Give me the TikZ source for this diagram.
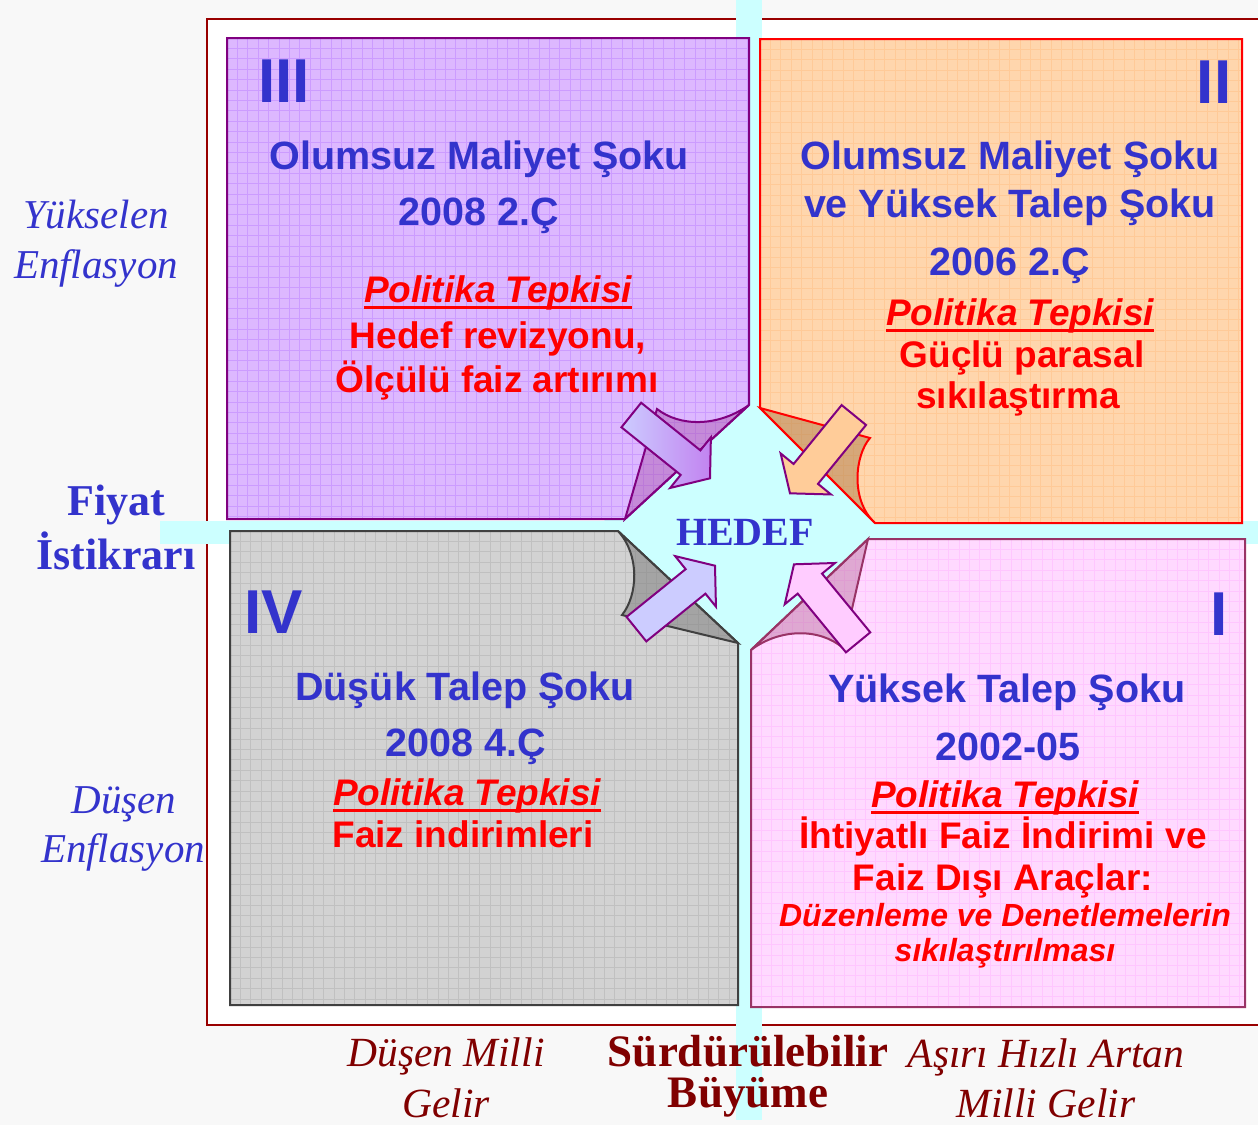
\documentclass[tikz,border=0pt]{standalone}
\usepackage{fontspec}
\setmainfont{Liberation Serif}
\setsansfont{Liberation Sans}
\usetikzlibrary{calc}
\definecolor{bgc}{HTML}{F8F8F8}
\definecolor{framec}{HTML}{990000}
\definecolor{cyanbg}{HTML}{CCFFFF}
\definecolor{pfill}{HTML}{DDB8FF}
\definecolor{pgrid}{HTML}{CC9CFF}
\definecolor{pedge}{HTML}{800080}
\definecolor{ofill}{HTML}{FFD6AD}
\definecolor{ogrid}{HTML}{FFCA98}
\definecolor{oedge}{HTML}{FF0000}
\definecolor{gfill}{HTML}{D2D2D2}
\definecolor{ggrid}{HTML}{C0C0C0}
\definecolor{gedge}{HTML}{404040}
\definecolor{kfill}{HTML}{FFD9FF}
\definecolor{kgrid}{HTML}{FFC6FF}
\definecolor{kedge}{HTML}{993366}
\definecolor{tblue}{HTML}{3333CC}
\definecolor{tred}{HTML}{FF0000}
\definecolor{tdark}{HTML}{800000}
\definecolor{arrlav}{HTML}{CCCCFF}
\definecolor{arrpur}{HTML}{C283F0}
\definecolor{arrorg}{HTML}{FFCC99}
\definecolor{arrpink}{HTML}{FFCCFF}
\definecolor{flapo}{HTML}{B5824F}
\definecolor{flapk}{HTML}{B06090}
\newcommand\gridin[5]{%
  \foreach \i in {0,...,52}{%
    \draw[#5, line width=0.8pt] ({#1+10.4*\i},#2) -- ++(0,#4);
    \draw[#5, line width=0.8pt] (#1,{#2+10.4*\i}) -- ++(#3,0);
  }}
\newcommand\blockarrow[3]{%
  \begin{scope}[shift={#1}, rotate=#2]
    \draw[#3] (0,0) -- (-25,32.5) -- (-25,15.75) -- (-101,15.75) -- (-101,-15.75) -- (-25,-15.75) -- (-25,-32.5) -- cycle;
  \end{scope}}
\newcommand\polit[2]{%
  \node[ptk] (#1) at (#2) {Politika Tepkisi};
  \draw[tred, line width=2.8pt] ([yshift=-5.5pt]#1.base west) -- ([yshift=-5.5pt]#1.base east);}
\tikzset{
  x=1pt, y=-1pt,
  boxline/.style={line width=2pt, line join=miter},
  hd/.style={font=\sffamily\bfseries\fontsize{39.5}{40}\selectfont, text=tblue, inner sep=0pt, anchor=base},
  ptk/.style={font=\sffamily\bfseries\itshape\fontsize{37}{38}\selectfont, text=tred, inner sep=0pt, anchor=base},
  rd/.style={font=\sffamily\bfseries\fontsize{37}{38}\selectfont, text=tred, inner sep=0pt, anchor=base},
  ri/.style={font=\sffamily\bfseries\itshape\fontsize{32}{33}\selectfont, text=tred, inner sep=0pt, anchor=base},
  rn/.style={font=\sffamily\bfseries\fontsize{62}{62}\selectfont, text=tblue, inner sep=0pt, anchor=base},
  lbi/.style={font=\itshape\fontsize{41}{42}\selectfont, text=tblue, inner sep=0pt, anchor=base},
  lbb/.style={font=\bfseries\fontsize{44}{45}\selectfont, text=tblue, inner sep=0pt, anchor=base},
  bti/.style={font=\itshape\fontsize{41.5}{42}\selectfont, text=tdark, inner sep=0pt, anchor=base},
  btb/.style={font=\bfseries\fontsize{45}{46}\selectfont, text=tdark, inner sep=0pt, anchor=base},
  hf/.style={font=\bfseries\fontsize{40}{41}\selectfont, text=tblue, inner sep=0pt, anchor=base},
  arr/.style={draw=pedge, line width=2pt, line join=miter},
}
\begin{document}
\begin{tikzpicture}
\useasboundingbox (0,0) rectangle (1258,1125);
\clip (0,0) rectangle (1258,1125);
% background
\fill[bgc] (0,0) rectangle (1258,1125);
\draw[framec, line width=2pt, fill=white] (207,19) rectangle (1280,1025);
% cyan cross and center
\fill[cyanbg] (736,0) rectangle (762,1120);
\fill[cyanbg] (160,521) rectangle (1258,544);
\fill[cyanbg] (745,380) -- (895,530) -- (745,680) -- (595,530) -- cycle;
% Quadrant III (purple)
\fill[pfill] (227,38) -- (749,38) -- (749,405) -- (625,519) -- (227,519) -- cycle;
\begin{scope}
  \clip (227,38) -- (749,38) -- (749,405) -- (625,519) -- (227,519) -- cycle;
  \gridin{227}{38}{530}{490}{pgrid}
\end{scope}
\draw[boxline, pedge] (227,38) -- (749,38) -- (749,405) -- (625,519) -- (227,519) -- cycle;
% Quadrant II (orange)
\fill[ofill] (760,39) -- (1242,39) -- (1242,523) -- (875,523) -- (760,408) -- cycle;
\begin{scope}
  \clip (760,39) -- (1242,39) -- (1242,523) -- (875,523) -- (760,408) -- cycle;
  \gridin{760}{39}{490}{490}{ogrid}
\end{scope}
\draw[boxline, oedge] (760,39) -- (1242,39) -- (1242,523) -- (875,523) -- (760,408) -- cycle;
% Quadrant IV (gray)
\fill[gfill] (230,531) -- (618,531) -- (738,643) -- (738,1005) -- (230,1005) -- cycle;
\begin{scope}
  \clip (230,531) -- (618,531) -- (738,643) -- (738,1005) -- (230,1005) -- cycle;
  \gridin{230}{531}{515}{480}{ggrid}
\end{scope}
\draw[boxline, gedge] (230,531) -- (618,531) -- (738,643) -- (738,1005) -- (230,1005) -- cycle;
% Quadrant I (pink)
\fill[kfill] (868,539) -- (1245,539) -- (1245,1007) -- (751,1007) -- (751,650) -- cycle;
\begin{scope}
  \clip (868,539) -- (1245,539) -- (1245,1007) -- (751,1007) -- (751,650) -- cycle;
  \gridin{751}{539}{500}{475}{kgrid}
\end{scope}
\draw[boxline, kedge] (868,539) -- (1245,539) -- (1245,1007) -- (751,1007) -- (751,650) -- cycle;
% curled corners
\filldraw[pedge, line width=2pt, fill=pedge!70!white, fill opacity=0.42] (749,405) .. controls (718,427) and (680,427) .. (657,409) -- (625,519) -- cycle;
\filldraw[oedge, line width=2pt, fill=flapo, fill opacity=0.55] (760,408) -- (870,438) .. controls (855,455) and (850,500) .. (875,523) -- cycle;
\filldraw[gedge, line width=2pt, fill=gray, fill opacity=0.55] (618,531) .. controls (640,555) and (638,595) .. (622,615) -- (738,643) -- cycle;
\filldraw[kedge, line width=2pt, fill=flapk, fill opacity=0.4] (868,539) -- (843,648) .. controls (820,628) and (780,628) .. (751,650) -- cycle;
% arrows
\blockarrow{(710,478.3)}{-38.8}{arr, left color=arrlav, right color=arrpur}
\blockarrow{(790,493.3)}{-129.2}{arr, fill=arrorg}
\blockarrow{(715,565.7)}{38.9}{arr, fill=arrlav}
\blockarrow{(794,564.3)}{129.4}{arr, fill=arrpink}
% HEDEF
\node[hf] (hedef) at (745,545) {HEDEF};
% Roman numerals
\node[rn] (r3) at (284,102) {III};
\node[rn] (r2) at (1214,103) {II};
\node[rn] (r4) at (274,633) {IV};
\node[rn] (r1) at (1219,635) {I};
% Quadrant III text
\node[hd] (t3a) at (479,169) {Olumsuz Maliyet Şoku};
\node[hd] (t3b) at (479,225) {2008 2.Ç};
\polit{p3}{498,302}
\node[rd] (t3c) at (498,348) {Hedef revizyonu,};
\node[rd] (t3d) at (497,392) {Ölçülü faiz artırımı};
% Quadrant II text
\node[hd] (t2a) at (1010,169) {Olumsuz Maliyet Şoku};
\node[hd] (t2b) at (1010,217) {ve Yüksek Talep Şoku};
\node[hd] (t2c) at (1010,275) {2006 2.Ç};
\polit{p2}{1020,325}
\node[rd] (t2d) at (1022,367) {Güçlü parasal};
\node[rd] (t2e) at (1018,408) {sıkılaştırma};
% Quadrant IV text
\node[hd] (t4a) at (465,700) {Düşük Talep Şoku};
\node[hd] (t4b) at (466,756) {2008 4.Ç};
\polit{p4}{467,805}
\node[rd] (t4c) at (463,847) {Faiz indirimleri};
% Quadrant I text
\node[hd] (t1a) at (1007,702) {Yüksek Talep Şoku};
\node[hd] (t1b) at (1008,760) {2002-05};
\polit{p1}{1005,807}
\node[rd] (t1c) at (1003,848) {İhtiyatlı Faiz İndirimi ve};
\node[rd] (t1d) at (1003,890) {Faiz Dışı Araçlar:};
\node[ri] (t1e) at (1005,926) {Düzenleme ve Denetlemelerin};
\node[ri] (t1f) at (1005,961) {sıkılaştırılması};
% left labels
\node[lbi] (ly1) at (96,228) {Yükselen};
\node[lbi] (ly2) at (96,278) {Enflasyon};
\node[lbb] (lf1) at (116,515) {Fiyat};
\node[lbb] (lf2) at (116,569) {İstikrarı};
\node[lbi] (ld1) at (124,813) {Düşen};
\node[lbi] (ld2) at (123,862) {Enflasyon};
% bottom labels
\node[bti] (bd1) at (446,1066) {Düşen Milli};
\node[bti] (bd2) at (446,1117) {Gelir};
\node[btb] (bs1) at (748,1066) {Sürdürülebilir};
\node[btb] (bs2) at (748,1107) {Büyüme};
\node[bti] (ba1) at (1046,1067) {Aşırı Hızlı Artan};
\node[bti] (ba2) at (1046,1117) {Milli Gelir};
\end{tikzpicture}
\end{document}
